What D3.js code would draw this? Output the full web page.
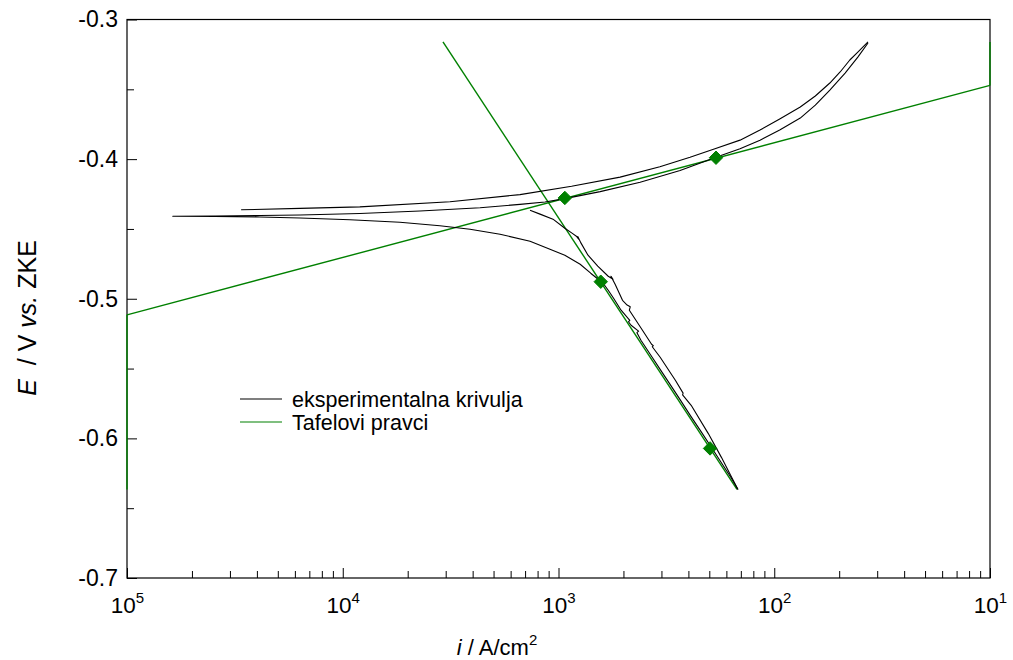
<!DOCTYPE html>
<html>
<head>
<meta charset="utf-8">
<script src="https://cdn.jsdelivr.net/npm/d3@7"></script>
<style>
  body { margin: 0; background: #fff; }
  text { font-family: "Liberation Sans", Arial, sans-serif; fill: #000; }
</style>
</head>
<body>
<svg id="chart" width="1013" height="660"></svg>
<script>
// Polarization curve: current density i (A/cm2) vs potential E (V vs. ZKE)

// Forward scan: cathodic branch from -0.637 V up through the minimum, then anodic branch
const forwardScan = [
  [6.79e-3, -0.6366], [6.30e-3, -0.6280], [5.60e-3, -0.6158], [5.12e-3, -0.6065],
  [4.54e-3, -0.5943], [4.08e-3, -0.5835], [3.68e-3, -0.5728], [3.29e-3, -0.5613],
  [2.98e-3, -0.5513], [2.68e-3, -0.5405], [2.41e-3, -0.5297], [2.31e-3, -0.5243],
  [2.35e-3, -0.5232], [2.17e-3, -0.5190], [2.11e-3, -0.5165], [2.14e-3, -0.5155],
  [1.95e-3, -0.5082], [1.80e-3, -0.4996], [1.70e-3, -0.4939], [1.61e-3, -0.4889],
  [1.41e-3, -0.4817], [1.26e-3, -0.4753], [1.07e-3, -0.4688],
  [9.13e-4, -0.4645], [7.38e-4, -0.4588], [5.36e-4, -0.4538], [3.89e-4, -0.4502],
  [2.82e-4, -0.4477], [1.84e-4, -0.4452], [1.08e-4, -0.4434], [6.34e-5, -0.4422],
  [4.13e-5, -0.4414], [2.56e-5, -0.4411], [1.63e-5, -0.4409],
  [2.56e-5, -0.4407], [4.13e-5, -0.4404], [6.34e-5, -0.4400], [1.20e-4, -0.4389],
  [2.28e-4, -0.4371], [4.33e-4, -0.4348], [6.63e-4, -0.4324], [8.66e-4, -0.4307],
  [1.07e-3, -0.4283], [1.56e-3, -0.4233], [2.39e-3, -0.4165], [3.66e-3, -0.4082],
  [5.37e-3, -0.3986], [6.94e-3, -0.3925], [8.59e-3, -0.3864], [1.06e-2, -0.3792],
  [1.32e-2, -0.3706], [1.55e-2, -0.3613], [1.81e-2, -0.3505], [2.13e-2, -0.3384],
  [2.44e-2, -0.3269], [2.72e-2, -0.3168]
];

// Reverse scan: anodic branch from -0.316 V back down to its minimum
const reverseAnodic = [
  [2.72e-2, -0.3161], [2.44e-2, -0.3233], [2.24e-2, -0.3290], [2.02e-2, -0.3376],
  [1.81e-2, -0.3455], [1.55e-2, -0.3548], [1.32e-2, -0.3627], [1.06e-2, -0.3713],
  [8.59e-3, -0.3792], [6.94e-3, -0.3864], [5.31e-3, -0.3925], [4.07e-3, -0.3986],
  [2.95e-3, -0.4054], [1.93e-3, -0.4129], [1.15e-3, -0.4194], [6.63e-4, -0.4254],
  [3.14e-4, -0.4305], [1.20e-4, -0.4342], [6.34e-5, -0.4353], [3.38e-5, -0.4363]
];

// Reverse scan: cathodic branch down to -0.637 V
const reverseCathodic = [
  [7.38e-4, -0.4366], [8.21e-4, -0.4394], [9.43e-4, -0.4430], [1.07e-3, -0.4495],
  [1.155e-3, -0.4530], [1.21e-3, -0.4552], [1.24e-3, -0.4573], [1.23e-3, -0.4555],
  [1.27e-3, -0.4600], [1.37e-3, -0.4688], [1.52e-3, -0.4767], [1.70e-3, -0.4839],
  [1.79e-3, -0.4860], [1.75e-3, -0.4839], [1.83e-3, -0.4896], [1.98e-3, -0.5011],
  [2.08e-3, -0.5045], [2.15e-3, -0.5058], [2.13e-3, -0.5082], [2.45e-3, -0.5226],
  [2.70e-3, -0.5326], [2.75e-3, -0.5336], [2.72e-3, -0.5344], [2.96e-3, -0.5419],
  [3.48e-3, -0.5584], [3.78e-3, -0.5676], [3.76e-3, -0.5688], [4.12e-3, -0.5763],
  [4.94e-3, -0.5964], [5.69e-3, -0.6136], [6.25e-3, -0.6258], [6.79e-3, -0.6366]
];

// Tafel lines
const tafelAnodic = [[1e-5, -0.5115], [1e-1, -0.3472]];
const tafelCathodic = [[2.914e-4, -0.3161], [6.72e-3, -0.6366]];
const tafelEdgeLeft = [[1e-5, -0.5115], [1e-5, -0.6366]];
const tafelEdgeRight = [[1e-1, -0.3472], [1e-1, -0.3161]];

// Points used for the Tafel fits
const tafelPoints = [
  [1.07e-3, -0.4278], [5.37e-3, -0.3990], [1.57e-3, -0.4878], [5.04e-3, -0.6072]
];

// Axis ticks
const xTickValues = [1e-5, 1e-4, 1e-3, 1e-2, 1e-1];
const xTickExponents = ["5", "4", "3", "2", "1"];
const yTickValues = [-0.3, -0.4, -0.5, -0.6, -0.7];
const yTickLabels = ["-0.3", "-0.4", "-0.5", "-0.6", "-0.7"];
const yMinorValues = [-0.35, -0.45, -0.55, -0.65];

const legendItems = [
  { label: "eksperimentalna krivulja", color: "#000000" },
  { label: "Tafelovi pravci", color: "#008000" }
];

const svg = d3.select("#chart");
const plotLeft = 127, plotRight = 990, plotTop = 19.5, plotBottom = 578;

const x = d3.scaleLog().domain([1e-5, 1e-1]).range([plotLeft, plotRight]);
const y = d3.scaleLinear().domain([-0.7, -0.3]).range([plotBottom, plotTop]);

const xMinorValues = [];
for (let e = -5; e < -1; e++) {
  for (let m = 2; m <= 9; m++) xMinorValues.push(m * Math.pow(10, e));
}

// Minor ticks (inward)
svg.append("g")
  .attr("transform", `translate(0,${plotBottom})`)
  .call(d3.axisBottom(x).tickValues(xMinorValues).tickSize(-7).tickFormat(""))
  .call(g => g.select(".domain").remove())
  .selectAll("line").attr("stroke", "#000").attr("stroke-width", 1);

svg.append("g")
  .attr("transform", `translate(${plotLeft},0)`)
  .call(d3.axisLeft(y).tickValues(yMinorValues).tickSize(-7).tickFormat(""))
  .call(g => g.select(".domain").remove())
  .selectAll("line").attr("stroke", "#000").attr("stroke-width", 1);

// Major x axis
const xAxis = svg.append("g")
  .attr("transform", `translate(0,${plotBottom})`)
  .call(d3.axisBottom(x).tickValues(xTickValues).tickSizeInner(-10).tickSizeOuter(0).tickPadding(0))
  .call(g => g.select(".domain").remove());
xAxis.selectAll("line").attr("stroke", "#000").attr("stroke-width", 1);
xAxis.selectAll("text").each(function(d, idx) {
  const t = d3.select(this);
  t.text(null)
    .attr("y", 35).attr("dy", null)
    .attr("font-size", 22.5).attr("font-family", "Liberation Sans, Arial, sans-serif")
    .attr("fill", "#000");
  t.append("tspan").text("10");
  t.append("tspan").attr("font-size", 15).attr("dy", -10).text(xTickExponents[idx]);
});

// Major y axis
const yAxis = svg.append("g")
  .attr("transform", `translate(${plotLeft},0)`)
  .call(d3.axisLeft(y).tickValues(yTickValues).tickSizeInner(-10).tickSizeOuter(0).tickPadding(9)
    .tickFormat((d, idx) => yTickLabels[idx]))
  .call(g => g.select(".domain").remove());
yAxis.selectAll("line").attr("stroke", "#000").attr("stroke-width", 1);
yAxis.selectAll("text")
  .attr("x", -9)
  .attr("font-size", 23).attr("font-family", "Liberation Sans, Arial, sans-serif")
  .attr("fill", "#000");

// Frame
svg.append("rect")
  .attr("x", plotLeft).attr("y", plotTop)
  .attr("width", plotRight - plotLeft).attr("height", plotBottom - plotTop)
  .attr("fill", "none").attr("stroke", "#000").attr("stroke-width", 1.2);

const line = d3.line().x(d => x(d[0])).y(d => y(d[1]));

// Tafel lines
const tafelGroup = svg.append("g").attr("fill", "none").attr("stroke", "#008000").attr("stroke-width", 1.4);
[tafelAnodic, tafelCathodic, tafelEdgeLeft, tafelEdgeRight].forEach(seg => {
  tafelGroup.append("path").attr("d", line(seg));
});

// Experimental curve
const expGroup = svg.append("g").attr("fill", "none").attr("stroke", "#000").attr("stroke-width", 1.1)
  .attr("stroke-linejoin", "round");
[forwardScan, reverseAnodic, reverseCathodic].forEach(seg => {
  expGroup.append("path").attr("d", line(seg));
});

// Fit points (diamonds)
svg.append("g").selectAll("path")
  .data(tafelPoints)
  .join("path")
  .attr("transform", d => `translate(${x(d[0])},${y(d[1])})`)
  .attr("d", d3.symbol().type(d3.symbolDiamond2).size(115))
  .attr("fill", "#008000")
  .attr("stroke", "#008000");

// Legend
const legend = svg.append("g").attr("transform", "translate(240,399)");
legendItems.forEach((it, k) => {
  const g = legend.append("g").attr("transform", `translate(0,${k * 23})`);
  g.append("line").attr("x1", 0).attr("x2", 42).attr("y1", 0).attr("y2", 0)
    .attr("stroke", it.color).attr("stroke-width", 1.1);
  g.append("text").attr("x", 52).attr("y", 7.5).attr("font-size", 21.5).text(it.label);
});

// Axis titles
const xTitle = svg.append("text")
  .attr("x", 497).attr("y", 655)
  .attr("text-anchor", "middle").attr("font-size", 22);
xTitle.append("tspan").attr("font-style", "italic").text("i");
xTitle.append("tspan").text(" / A/cm");
xTitle.append("tspan").attr("font-size", 15).attr("dy", -10).text("2");

const yTitle = svg.append("text")
  .attr("transform", "translate(36,318) rotate(-90)")
  .attr("text-anchor", "middle").attr("font-size", 25);
yTitle.append("tspan").attr("font-style", "italic").text("E");
yTitle.append("tspan").attr("xml:space", "preserve").text("  / V ");
yTitle.append("tspan").attr("font-style", "italic").text("vs.");
yTitle.append("tspan").text(" ZKE");
</script>
</body>
</html>
